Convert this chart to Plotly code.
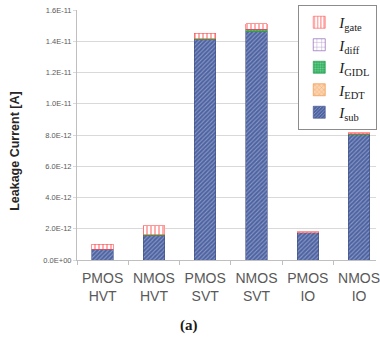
import plotly.graph_objects as go

categories = ["PMOS<br>HVT", "NMOS<br>HVT", "PMOS<br>SVT", "NMOS<br>SVT", "PMOS<br>IO", "NMOS<br>IO"]
i_sub = [0.70e-12, 1.56e-12, 14.10e-12, 14.65e-12, 1.76e-12, 8.05e-12]
i_edt = [0.0, 0.0, 0.0, 0.0, 0.0, 0.0]
i_gidl = [0.0, 0.06e-12, 0.05e-12, 0.12e-12, 0.0, 0.02e-12]
i_diff = [0.0, 0.0, 0.0, 0.0, 0.0, 0.0]
i_gate = [0.30e-12, 0.58e-12, 0.35e-12, 0.35e-12, 0.05e-12, 0.08e-12]

y_tickvals = [0, 2e-12, 4e-12, 6e-12, 8e-12, 10e-12, 12e-12, 14e-12, 16e-12]
y_ticktext = ["0.0E+00", "2.0E-12", "4.0E-12", "6.0E-12", "8.0E-12",
              "1.0E-11", "1.2E-11", "1.4E-11", "1.6E-11"]

series = [
    ("<i>I</i><sub>sub</sub>", i_sub, dict(bg="#4d62a0", fg="#c9d2ea", shape="/", line="#3d4f88", size=3, sol=0.35)),
    ("<i>I</i><sub>EDT</sub>", i_edt, dict(bg="#fbd3b0", fg="#f08a30", shape="x", line="#f08a30", size=4, sol=0.3)),
    ("<i>I</i><sub>GIDL</sub>", i_gidl, dict(bg="#30b060", fg="#c8f0d0", shape=".", line="#109040", size=3, sol=0.4)),
    ("<i>I</i><sub>diff</sub>", i_diff, dict(bg="#ffffff", fg="#7a4aa8", shape="+", line="#7a4aa8", size=6, sol=0.2)),
    ("<i>I</i><sub>gate</sub>", i_gate, dict(bg="#ffffff", fg="#ff3030", shape="|", line="#ff5050", size=4, sol=0.4)),
]

fig = go.Figure()
for name, vals, st in series:
    fig.add_trace(go.Bar(
        x=categories, y=vals, name=name,
        marker=dict(
            color=st["bg"],
            line=dict(color=st["line"], width=0.6),
            pattern=dict(shape=st["shape"], fgcolor=st["fg"], bgcolor=st["bg"],
                         size=st["size"], solidity=st["sol"], fillmode="overlay"),
        ),
    ))

fig.update_layout(
    width=380, height=347,
    margin=dict(l=77, r=0, t=10, b=87),
    barmode="stack", bargap=0.58,
    plot_bgcolor="white", paper_bgcolor="white",
    showlegend=True,
    legend=dict(
        x=0.74, y=1.02, xanchor="left", yanchor="top",
        traceorder="reversed",
        bordercolor="#8c8c8c", borderwidth=1, bgcolor="white",
        font=dict(family="Liberation Serif", size=15, color="#1a1a1a"),
        itemwidth=30, tracegroupgap=0,
    ),
    xaxis=dict(
        range=[-0.5, 5.33],
        tickson="boundaries", ticks="outside", ticklen=4, tickcolor="#bfbfbf",
        showline=True, linecolor="#bfbfbf", linewidth=1,
        tickfont=dict(family="Liberation Sans", size=14, color="#595959"),
        ticklabelstandoff=5,
        showgrid=False,
    ),
    yaxis=dict(
        range=[0, 16e-12],
        tickvals=y_tickvals, ticktext=y_ticktext,
        ticks="outside", ticklen=3, tickcolor="#d9d9d9",
        showline=True, linecolor="#bfbfbf", linewidth=1,
        gridcolor="#d9d9d9", gridwidth=1,
        tickfont=dict(family="Liberation Sans", size=7.5, color="#595959"),
        zeroline=False,
    ),
    annotations=[
        dict(
            text="<b>Leakage Current [A]</b>", xref="paper", yref="paper",
            x=(14 - 77) / 303, y=(260 - 151) / 250,
            showarrow=False, xanchor="center", yanchor="middle", textangle=-90,
            font=dict(family="Liberation Sans", size=12.5, color="#262626"),
        ),
        dict(
            text="<b>(a)</b>", xref="paper", yref="paper",
            x=(190 - 77) / 303, y=(260 - 325) / 250,
            showarrow=False, xanchor="center", yanchor="middle",
            font=dict(family="Liberation Serif", size=15, color="#1a1a1a"),
        ),
    ],
)

fig.write_html("out.html")
